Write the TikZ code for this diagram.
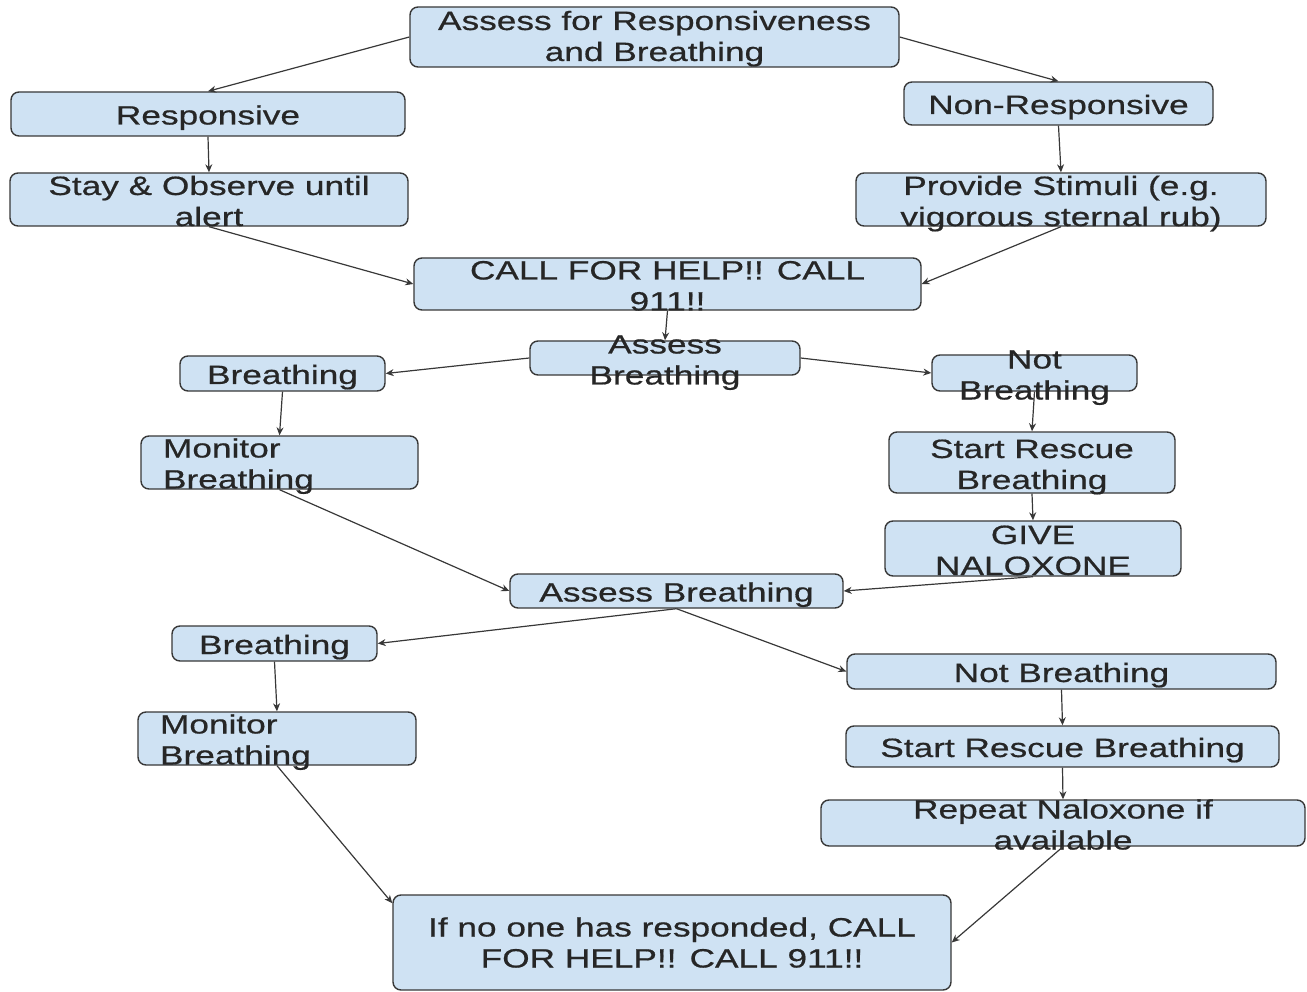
\documentclass[tikz,border=0pt]{standalone}
\usepackage{fontspec}
\setmainfont[FakeStretch=1.33,FakeBold=0.6]{Liberation Sans}
\usetikzlibrary{arrows.meta}
\definecolor{boxblue}{HTML}{CFE2F3}
\definecolor{boxline}{HTML}{383838}
\definecolor{txtgray}{HTML}{262626}
\newcommand{\upstrut}[1][29pt]{\rule{0pt}{#1}}
\tikzset{
  box/.style={draw=boxline, fill=boxblue, line width=1.4pt, rounded corners=8pt,
    inner xsep=10pt, inner ysep=-60pt, align=center, text=txtgray,
    font=\fontsize{26.5}{31}\selectfont,
    execute at begin node={\rule{0pt}{28pt}},
    execute at end node={\rule[-7pt]{0pt}{7pt}}},
  leftbox/.style={box, align=left, text width=#1},
  arr/.style={draw=boxline, line width=1.2pt, -{Stealth[length=8pt,width=7pt]}}
}
\begin{document}
\begin{tikzpicture}[x=1pt,y=-1pt]
        % 全体の大きさ
        \useasboundingbox (0,0) rectangle (1307,992);
        % 最初の確認
        \node[box, minimum width=489pt, minimum height=60pt] (assess0) at (654.5,37) {\upstrut[24pt]Assess for Responsiveness\\and Breathing};
        % 反応あり／反応なし
        \node[box, minimum width=394pt, minimum height=44pt] (resp) at (208,114) {Responsive};
        \node[box, minimum width=309pt, minimum height=43pt] (nonresp) at (1058.5,103.5) {Non-Responsive};
        \node[box, minimum width=398pt, minimum height=53pt] (observe) at (209,199.5) {\upstrut Stay \& Observe until\\alert};
        \node[box, minimum width=410pt, minimum height=53pt] (stimuli) at (1061,199.5) {\upstrut Provide Stimuli (e.g.\\vigorous sternal rub)};
        % 助けを呼ぶ
        \node[box, minimum width=507pt, minimum height=52pt] (call) at (667.5,284) {\upstrut CALL FOR HELP!! CALL\\911!!};
        % 一回目の呼吸確認
        \node[box, minimum width=270pt, minimum height=34pt] (assessA) at (665,358) {\upstrut Assess\\Breathing};
        \node[box, minimum width=205pt, minimum height=35pt] (breathA) at (282.5,373.5) {Breathing};
        \node[box, minimum width=205pt, minimum height=36pt] (notbreathA) at (1034.5,373) {\upstrut Not\\Breathing};
        \node[leftbox=233pt, minimum width=277pt, minimum height=53pt] (monitorA) at (279.5,462.5) {Monitor\\Breathing};
        \node[box, minimum width=286pt, minimum height=61pt] (rescueA) at (1032,462.5) {\upstrut Start Rescue\\Breathing};
        \node[box, minimum width=296pt, minimum height=55pt] (naloxone) at (1033,548.5) {\upstrut GIVE\\NALOXONE};
        % 二回目の呼吸確認
        \node[box, minimum width=333pt, minimum height=34pt] (assessB) at (676.5,591) {Assess Breathing};
        \node[box, minimum width=205pt, minimum height=35pt] (breathB) at (274.5,643.5) {Breathing};
        \node[box, minimum width=429pt, minimum height=35pt] (notbreathB) at (1061.5,671.5) {Not Breathing};
        \node[leftbox=234pt, minimum width=278pt, minimum height=53pt] (monitorB) at (277,738.5) {Monitor\\Breathing};
        \node[box, minimum width=433pt, minimum height=41pt] (rescueB) at (1062.5,746.5) {Start Rescue Breathing};
        \node[box, minimum width=484pt, minimum height=46pt] (repeat) at (1063,823) {\upstrut Repeat Naloxone if\\available};
        % 最後
        \node[box, minimum width=558pt, minimum height=95pt] (final) at (672,942.5) {\upstrut[26pt]If no one has responded, CALL\\FOR HELP!! CALL 911!!};
        % 矢印
        \draw[arr] (assess0.west) -- (resp.north);
        \draw[arr] (assess0.east) -- (nonresp.north);
        \draw[arr] (resp.south) -- (observe.north);
        \draw[arr] (nonresp.south) -- (stimuli.north);
        \draw[arr] (observe.south) -- (call.west);
        \draw[arr] (stimuli.south) -- (call.east);
        \draw[arr] (call.south) -- (assessA.north);
        \draw[arr] (assessA.west) -- (breathA.east);
        \draw[arr] (assessA.east) -- (notbreathA.west);
        \draw[arr] (breathA.south) -- (monitorA.north);
        \draw[arr] (notbreathA.south) -- (rescueA.north);
        \draw[arr] (rescueA.south) -- (naloxone.north);
        \draw[arr] (naloxone.south) -- (assessB.east);
        \draw[arr] (monitorA.south) -- (assessB.west);
        \draw[arr] (assessB.south) -- (breathB.east);
        \draw[arr] (assessB.south) -- (notbreathB.west);
        \draw[arr] (breathB.south) -- (monitorB.north);
        \draw[arr] (notbreathB.south) -- (rescueB.north);
        \draw[arr] (rescueB.south) -- (repeat.north);
        \draw[arr] (monitorB.south) -- (final.172);
        \draw[arr] (repeat.south) -- (final.east);
      \end{tikzpicture}
\end{document}
